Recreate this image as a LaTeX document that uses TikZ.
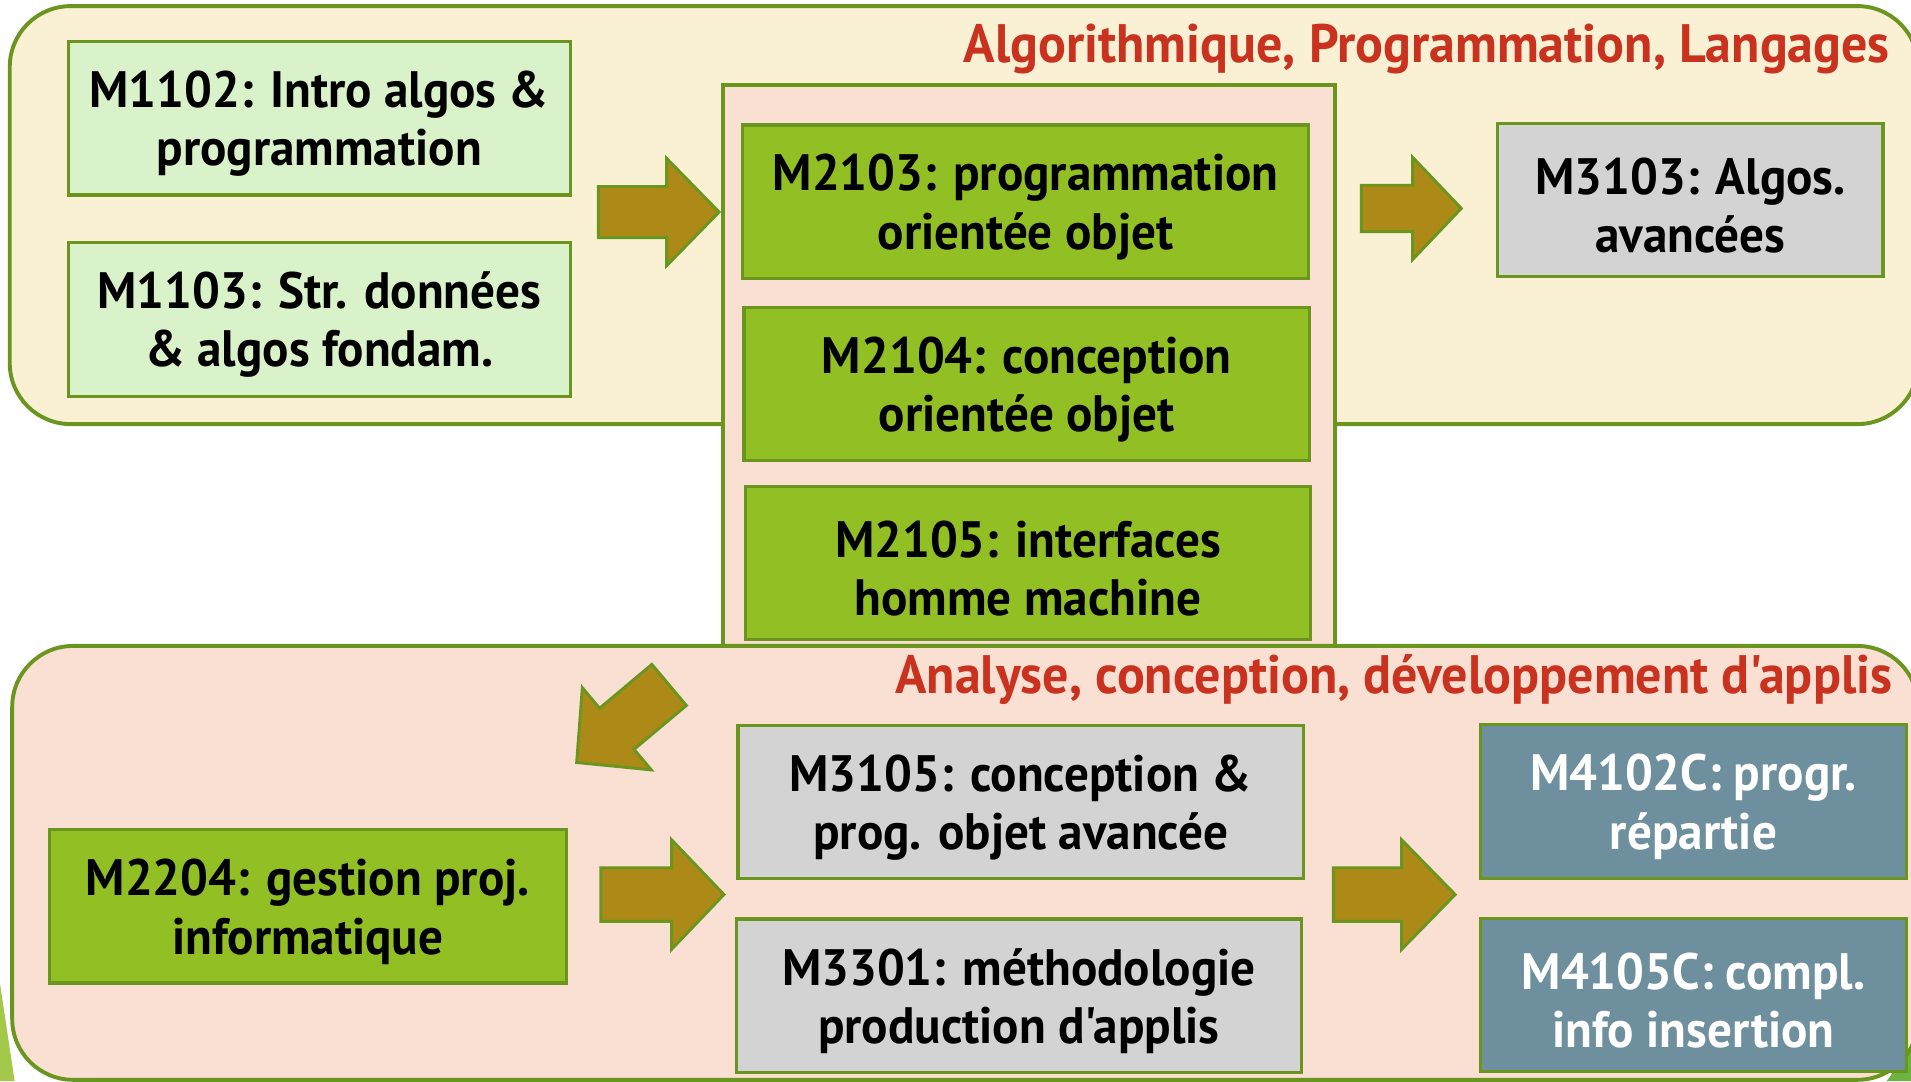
\documentclass[tikz,border=0pt]{standalone}
\usepackage{fontspec}
\setmainfont{PT Sans}[Ligatures=TeXOff, FakeStretch=0.96]
\usepackage{tikz}
\usepackage{xcolor}

\definecolor{vertbord}{HTML}{6A961F}
\definecolor{creme}{HTML}{FAF0D3}
\definecolor{rose}{HTML}{F9E0D2}
\definecolor{vertpale}{HTML}{DAF2C9}
\definecolor{vertvif}{HTML}{92C024}
\definecolor{grisclair}{HTML}{D3D3D3}
\definecolor{ardoise}{HTML}{6E8F9E}
\definecolor{ocre}{HTML}{AD8A17}
\definecolor{rougetitre}{HTML}{C8321E}
\definecolor{vertdeco}{HTML}{A4C94A}
\definecolor{vertcoin}{HTML}{6DB33F}

\begin{document}
\begin{tikzpicture}[x=0.5pt,y=-0.5pt,
  module/.style={draw=vertbord, line width=1.3pt, align=center, minimum height=63pt, inner sep=2pt, text height=43.5pt, font=\bfseries\fontsize{21}{24}\selectfont},
  fleche/.style={draw=vertbord, line width=1.2pt, fill=ocre},
  bloc/.style={draw=vertbord, line width=1.6pt},
  titre/.style={anchor=east, text=rougetitre, inner sep=0pt, font=\bfseries\fontsize{22.2}{24}\selectfont}]
\useasboundingbox (0,0) rectangle (1568,887);

% decor of the slide
\fill[vertdeco] (0,807) -- (12,887) -- (0,887) -- cycle;
\fill[vertcoin] (1548,887) -- (1568,860) -- (1568,887) -- cycle;

% algo, prog, langages
\draw[bloc, fill=creme, rounded corners=25pt] (8,5) rectangle (1574,348);
\node[titre] (titreAlgo) at (1551,40) {Algorithmique, Programmation, Langages};

\draw[bloc, fill=rose] (593,70) rectangle (1095,545);

% analyse, conception
\draw[bloc, fill=rose, rounded corners=25pt] (10,530) rectangle (1574,886);
\node[titre] (titreAnalyse) at (1553,558) {Analyse, conception, d\'eveloppement d'applis};

% semester 1
\node[module, fill=vertpale, minimum width=206pt] (m1102) at (262,97) {M1102: Intro algos \&\\programmation};
\node[module, fill=vertpale, minimum width=206pt] (m1103) at (262,262) {M1103: Str. donn\'ees\\\& algos fondam.};

% semester 2
\node[module, fill=vertvif, minimum width=232pt] (m2103) at (841.5,165.5) {M2103: programmation\\orient\'ee objet};
\node[module, fill=vertvif, minimum width=232pt] (m2104) at (842.5,315) {M2104: conception\\orient\'ee objet};
\node[module, fill=vertvif, minimum width=232pt] (m2105) at (843.5,462) {M2105: interfaces\\homme machine};
\node[module, fill=vertvif, minimum width=212pt] (m2204) at (252.5,743.5) {M2204: gestion proj.\\informatique};

% semester 3
\node[module, fill=grisclair, minimum width=158pt] (m3103) at (1387,164) {M3103: Algos.\\avanc\'ees};
\node[module, fill=grisclair, minimum width=232pt] (m3105) at (837.5,658) {M3105: conception \&\\prog. objet avanc\'ee};
\node[module, fill=grisclair, minimum width=232pt] (m3301) at (836,817) {M3301: m\'ethodologie\\production d'applis};

% semester 4
\node[module, fill=ardoise, text=white, minimum width=175pt] (m4102) at (1389.5,657.5) {M4102C: progr.\\r\'epartie};
\node[module, fill=ardoise, text=white, minimum width=175pt] (m4105) at (1389.5,816.5) {M4105C: compl.\\info insertion};

% big arrows
\draw[fleche] (491,153) -- (547,153) -- (547,130) -- (590,174) -- (547,218) -- (547,195) -- (491,195) -- cycle;
\draw[fleche] (1117,152) -- (1159,152) -- (1159,129) -- (1199,171) -- (1159,213) -- (1159,190) -- (1117,190) -- cycle;
\draw[fleche] (493,712) -- (551,712) -- (551,689) -- (594,734) -- (551,779) -- (551,756) -- (493,756) -- cycle;
\draw[fleche] (1094,712) -- (1150,712) -- (1150,689) -- (1194,734) -- (1150,779) -- (1150,756) -- (1094,756) -- cycle;
\begin{scope}[shift={(549,562)}, rotate=220]
\draw[fleche] (0,-22) -- (56,-22) -- (56,-44) -- (99,0) -- (56,44) -- (56,22) -- (0,22) -- cycle;
\end{scope}

\end{tikzpicture}
\end{document}
